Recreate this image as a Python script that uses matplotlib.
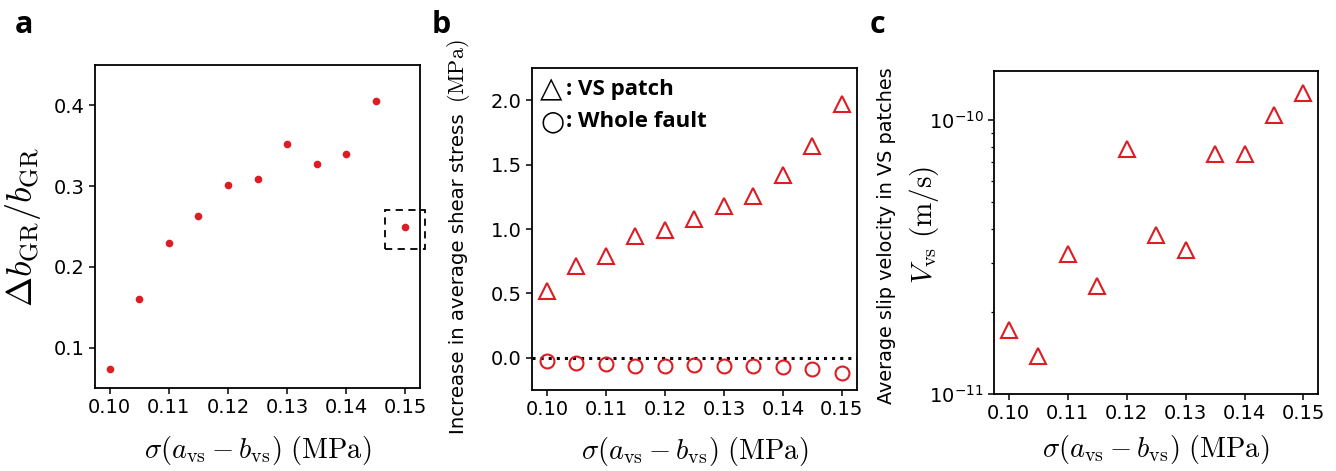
import matplotlib
matplotlib.use("Agg")
import matplotlib.pyplot as plt
from matplotlib.patches import Rectangle

plt.rcParams['mathtext.fontset'] = 'cm'
plt.rcParams['font.family'] = ['DejaVu Sans']

# Normal-stress-scaled frictional heterogeneity (MPa)
sigma_ab = [0.100, 0.105, 0.110, 0.115, 0.120, 0.125, 0.130, 0.135, 0.140, 0.145, 0.150]

# (a) relative change of b-value
db_gr = [0.074, 0.160, 0.229, 0.263, 0.301, 0.309, 0.352, 0.328, 0.340, 0.405, 0.249]

# (b) increase in average shear stress (MPa)
dtau_vs = [0.52, 0.71, 0.79, 0.95, 0.99, 1.08, 1.18, 1.26, 1.42, 1.65, 1.97]
dtau_whole = [-0.023, -0.044, -0.046, -0.060, -0.060, -0.057, -0.065, -0.065, -0.075, -0.085, -0.116]

# (c) average slip velocity in VS patches (m/s)
v_vs = [1.71e-11, 1.38e-11, 3.24e-11, 2.48e-11, 7.82e-11, 3.79e-11,
        3.35e-11, 7.5e-11, 7.5e-11, 1.04e-10, 1.26e-10]

red = '#dd1c24'
xticks = [0.10, 0.11, 0.12, 0.13, 0.14, 0.15]
xlab = r'$\sigma(a_{\rm vs}-b_{\rm vs})\ (\mathrm{MPa})$'
bold_font = ['Open Sans', 'DejaVu Sans']

fig = plt.figure(figsize=(13.36, 4.71), dpi=100)
ax_a = fig.add_axes([0.0711, 0.1762, 0.2433, 0.6858])
ax_b = fig.add_axes([0.3984, 0.1720, 0.2428, 0.6830])
ax_c = fig.add_axes([0.7440, 0.1635, 0.2427, 0.6858])

for ax, pad in ((ax_a, 12), (ax_b, 11), (ax_c, 7)):
    for sp in ax.spines.values():
        sp.set_linewidth(1.3)
    ax.tick_params(labelsize=14, width=1.1, length=4)
    ax.set_xticks(xticks)
    ax.set_xticklabels(['%.2f' % t for t in xticks])
    ax.set_xlabel(xlab, fontsize=20.5, labelpad=pad)

# panel a
ax_a.plot(sigma_ab, db_gr, 'o', color=red, ms=5.5, mec='none')
ax_a.set_ylim(0.05, 0.45)
ax_a.set_yticks([0.1, 0.2, 0.3, 0.4])
ax_a.set_ylabel(r'$\Delta b_{\rm GR}/b_{\rm GR}$', fontsize=26, labelpad=8)
ax_a.add_patch(Rectangle((0.1466, 0.222), 0.0068, 0.048, fill=False, ls=(0, (4, 3)),
                         lw=1.3, ec='k', clip_on=False))

# panel b
ax_b.plot(sigma_ab, dtau_vs, '^', ms=11, mfc='none', mec=red, mew=1.5)
ax_b.plot(sigma_ab, dtau_whole, 'o', ms=10, mfc='none', mec=red, mew=1.5)
ax_b.axhline(0, color='k', ls=':', lw=2.2, zorder=0)
ax_b.set_ylim(-0.25, 2.25)
ax_b.set_yticks([0.0, 0.5, 1.0, 1.5, 2.0])
# y label: sans text followed by the unit in math font
ax_b.text(-0.227, 0.362, 'Increase in average shear stress', transform=ax_b.transAxes,
          rotation=90, fontsize=14.2, ha='center', va='center')
ax_b.text(-0.227, 0.990, r'$(\mathrm{MPa})$', transform=ax_b.transAxes,
          rotation=90, fontsize=16, ha='center', va='center')

# marker key
ax_b.text(0.025, 0.933, '\u25b3', transform=ax_b.transAxes, fontsize=21,
          va='center', ha='left', family=['DejaVu Sans'])
ax_b.text(0.025, 0.836, '\u25cb', transform=ax_b.transAxes, fontsize=20,
          va='center', ha='left', family=['DejaVu Sans'], fontweight='bold')
ax_b.text(0.105, 0.933, ': VS patch', transform=ax_b.transAxes, fontsize=16,
          va='center', ha='left', family=bold_font, fontweight='bold')
ax_b.text(0.105, 0.836, ': Whole fault', transform=ax_b.transAxes, fontsize=16,
          va='center', ha='left', family=bold_font, fontweight='bold')

# panel c
ax_c.plot(sigma_ab, v_vs, '^', ms=11, mfc='none', mec=red, mew=1.5)
ax_c.set_yscale('log')
ax_c.set_ylim(1e-11, 1.51e-10)
ax_c.tick_params(which='minor', length=2.5, width=0.9)
ax_c.text(-0.215, 0.525, r'$V_{\rm vs}\ (\mathrm{m/s})$', transform=ax_c.transAxes,
          rotation=90, fontsize=21, ha='center', va='center')
ax_c.text(-0.33, 0.489, 'Average slip velocity in VS patches', transform=ax_c.transAxes,
          rotation=90, fontsize=13.9, va='center', ha='center')

# panel letters
for x, letter in [(0.011, 'a'), (0.323, 'b'), (0.651, 'c')]:
    fig.text(x, 0.93, letter, fontsize=22, fontweight='bold', family=bold_font,
             va='baseline')

fig.savefig('out.png', dpi=100)
